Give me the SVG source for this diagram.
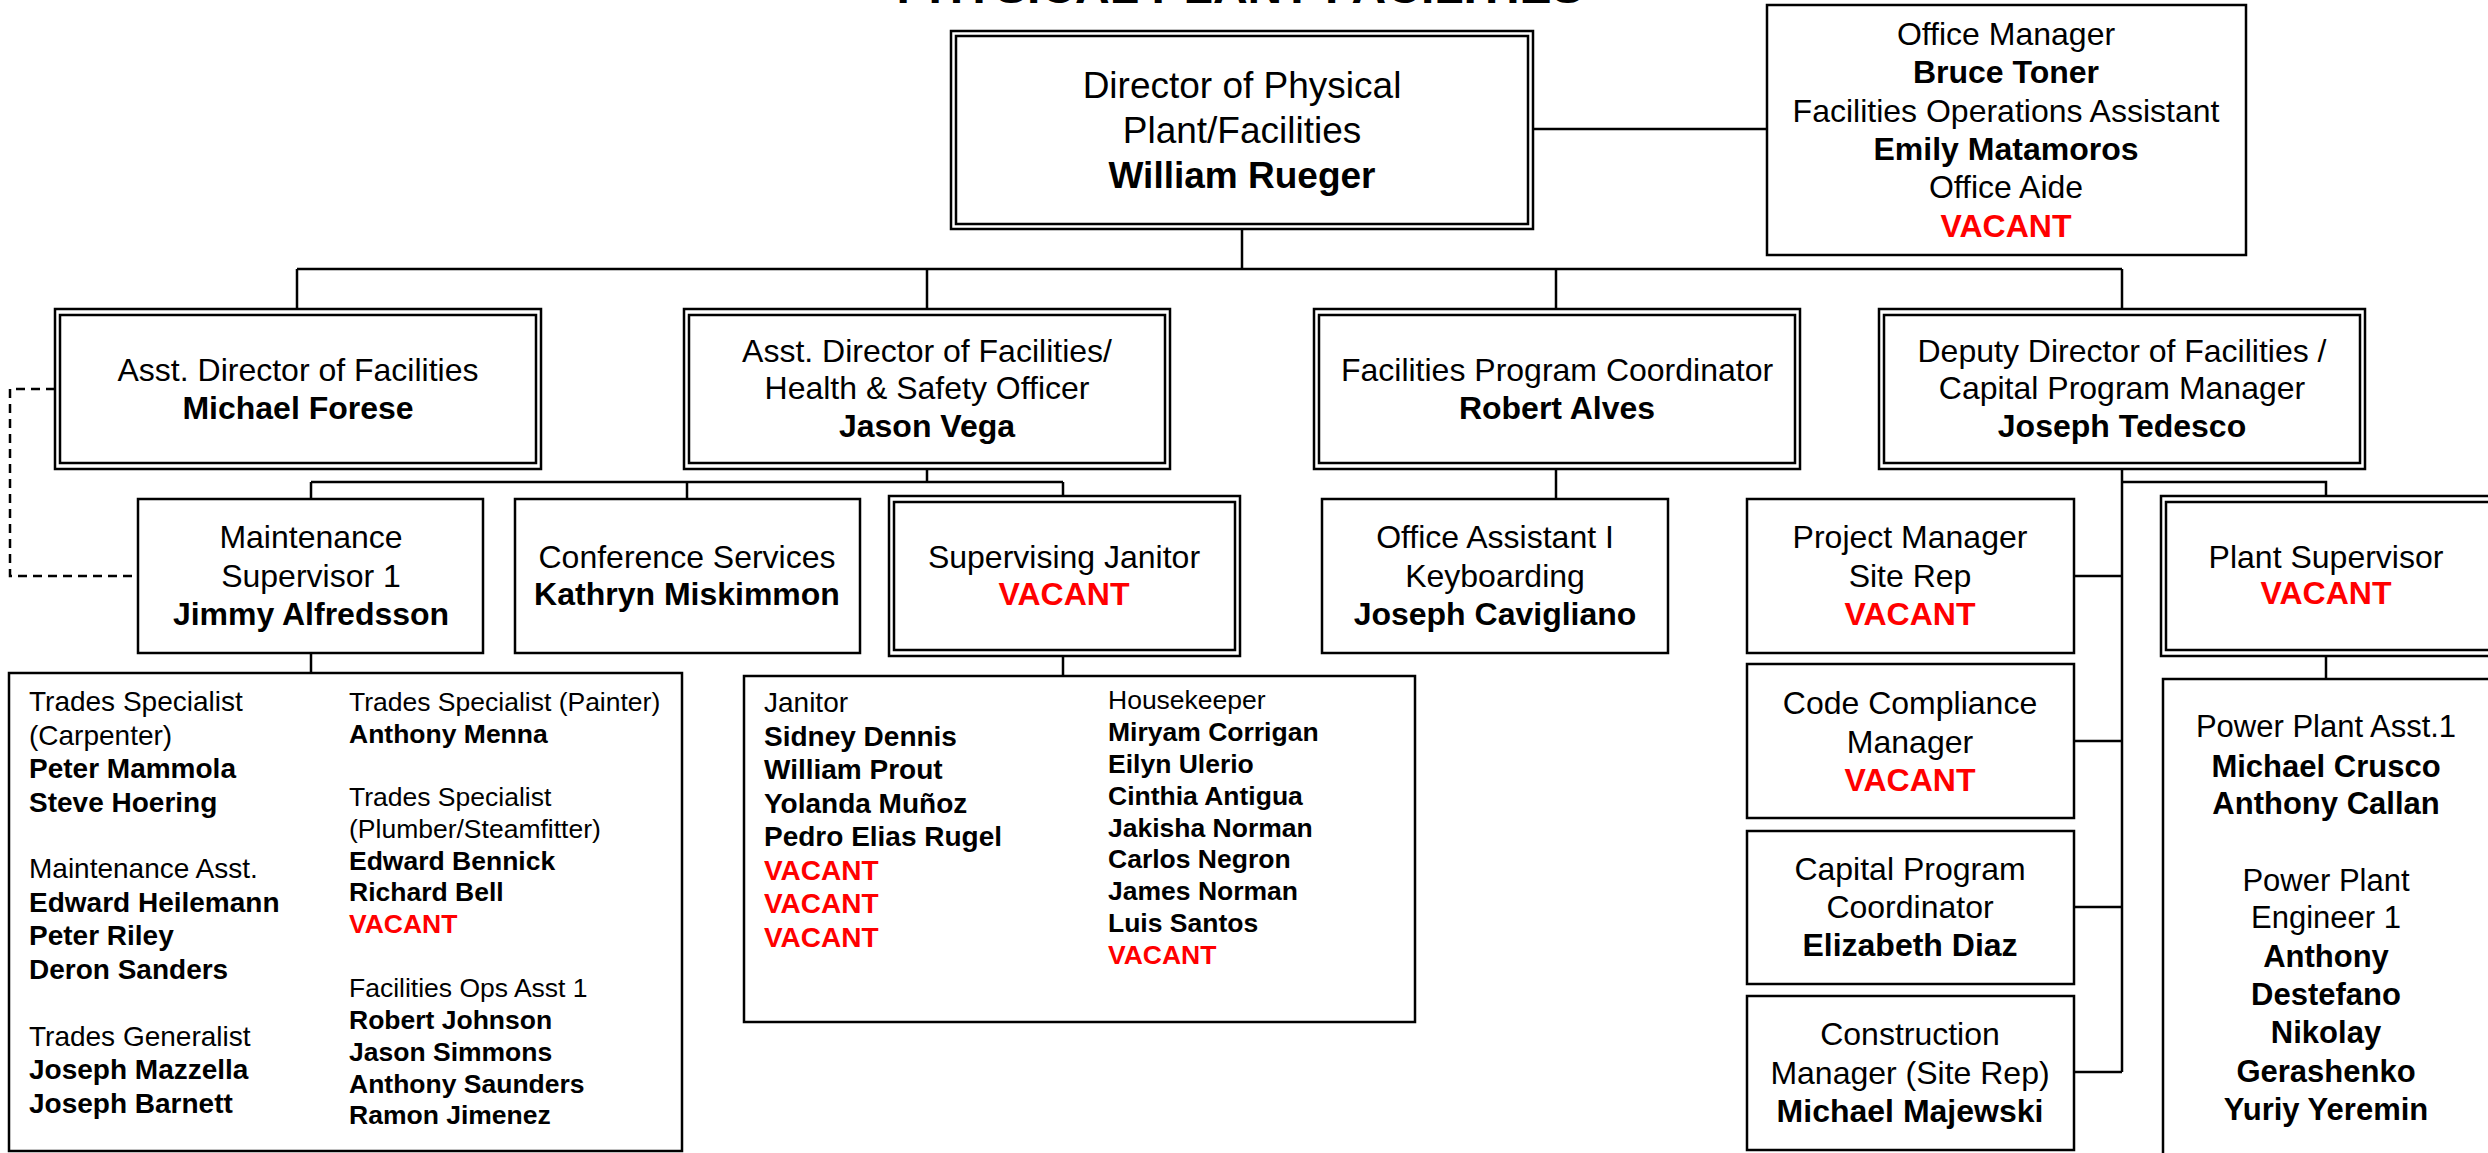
<svg xmlns="http://www.w3.org/2000/svg" width="2488" height="1153" viewBox="0 0 2488 1153">
<style>
.bx{fill:#fff;stroke:#000;stroke-width:2.5}
.c{fill:none;stroke:#000;stroke-width:2.5}
.d{fill:none;stroke:#000;stroke-width:2.5;stroke-dasharray:9 6}
text{font-family:"Liberation Sans",Arial,sans-serif;fill:#000}
.m{text-anchor:middle;font-size:32px}
.pp{font-size:31px}
.big{font-size:37px}
.b{font-weight:bold}
.v{fill:#ff0000;font-weight:bold}
.l{text-anchor:start;font-size:26.5px}
.l2{text-anchor:start;font-size:28px}
.ttl{text-anchor:middle;font-size:48px;font-weight:bold}
</style>
<rect width="2488" height="1153" fill="#fff"/>
<text class="ttl" x="1240" y="3">PHYSICAL PLANT FACILITIES</text>

<g id="connectors">
<path class="c" d="M1533 129H1767"/>
<path class="c" d="M1242 229V269M297 269H2122M297 269V309M927 269V309M1556 269V309M2122 269V309"/>
<path class="c" d="M927 469V482M311 482H1063M311 482V499M687 482V499M1063 482V496"/>
<path class="d" d="M55 389H10V576H138"/>
<path class="c" d="M311 653V673M1063 656V676"/>
<path class="c" d="M1556 469V499"/>
<path class="c" d="M2122 469V1072M2122 482H2326V496M2074 576H2122M2074 741H2122M2074 907H2122M2074 1072H2122"/>
<path class="c" d="M2326 656V679"/>
</g>

<g id="director">
<rect class="bx" x="951" y="31" width="582" height="198"/>
<rect class="bx" x="956" y="36" width="572" height="188"/>
<text class="m big" x="1242" y="98">Director of Physical</text>
<text class="m big" x="1242" y="143">Plant/Facilities</text>
<text class="m big b" x="1242" y="188">William Rueger</text>
</g>

<g id="office">
<rect class="bx" x="1767" y="5" width="479" height="250"/>
<text class="m" x="2006" y="45">Office Manager</text>
<text class="m b" x="2006" y="83">Bruce Toner</text>
<text class="m" x="2006" y="122">Facilities Operations Assistant</text>
<text class="m b" x="2006" y="160">Emily Matamoros</text>
<text class="m" x="2006" y="198">Office Aide</text>
<text class="m v" x="2006" y="237">VACANT</text>
</g>

<g id="asst-forese">
<rect class="bx" x="55" y="309" width="486" height="160"/>
<rect class="bx" x="60" y="315" width="476" height="148"/>
<text class="m" x="298" y="381">Asst. Director of Facilities</text>
<text class="m b" x="298" y="419">Michael Forese</text>
</g>

<g id="asst-vega">
<rect class="bx" x="684" y="309" width="486" height="160"/>
<rect class="bx" x="689" y="315" width="476" height="148"/>
<text class="m" x="927" y="362">Asst. Director of Facilities/</text>
<text class="m" x="927" y="399">Health &amp; Safety Officer</text>
<text class="m b" x="927" y="437">Jason Vega</text>
</g>

<g id="fpc">
<rect class="bx" x="1314" y="309" width="486" height="160"/>
<rect class="bx" x="1319" y="315" width="476" height="148"/>
<text class="m" x="1557" y="381">Facilities Program Coordinator</text>
<text class="m b" x="1557" y="419">Robert Alves</text>
</g>

<g id="deputy">
<rect class="bx" x="1879" y="309" width="486" height="160"/>
<rect class="bx" x="1884" y="315" width="476" height="148"/>
<text class="m" x="2122" y="362">Deputy Director of Facilities /</text>
<text class="m" x="2122" y="399">Capital Program Manager</text>
<text class="m b" x="2122" y="437">Joseph Tedesco</text>
</g>

<g id="maint-sup">
<rect class="bx" x="138" y="499" width="345" height="154"/>
<text class="m" x="311" y="548">Maintenance</text>
<text class="m" x="311" y="587">Supervisor 1</text>
<text class="m b" x="311" y="625">Jimmy Alfredsson</text>
</g>

<g id="conference">
<rect class="bx" x="515" y="499" width="345" height="154"/>
<text class="m" x="687" y="568">Conference Services</text>
<text class="m b" x="687" y="605">Kathryn Miskimmon</text>
</g>

<g id="sup-janitor">
<rect class="bx" x="889" y="496" width="351" height="160"/>
<rect class="bx" x="894" y="502" width="341" height="148"/>
<text class="m" x="1064" y="568">Supervising Janitor</text>
<text class="m v" x="1064" y="605">VACANT</text>
</g>

<g id="office-asst">
<rect class="bx" x="1322" y="499" width="346" height="154"/>
<text class="m" x="1495" y="548">Office Assistant I</text>
<text class="m" x="1495" y="587">Keyboarding</text>
<text class="m b" x="1495" y="625">Joseph Cavigliano</text>
</g>

<g id="project-mgr">
<rect class="bx" x="1747" y="499" width="327" height="154"/>
<text class="m" x="1910" y="548">Project Manager</text>
<text class="m" x="1910" y="587">Site Rep</text>
<text class="m v" x="1910" y="625">VACANT</text>
</g>

<g id="code-compliance">
<rect class="bx" x="1747" y="664" width="327" height="154"/>
<text class="m" x="1910" y="714">Code Compliance</text>
<text class="m" x="1910" y="753">Manager</text>
<text class="m v" x="1910" y="791">VACANT</text>
</g>

<g id="capital-coord">
<rect class="bx" x="1747" y="831" width="327" height="153"/>
<text class="m" x="1910" y="880">Capital Program</text>
<text class="m" x="1910" y="918">Coordinator</text>
<text class="m b" x="1910" y="956">Elizabeth Diaz</text>
</g>

<g id="construction-mgr">
<rect class="bx" x="1747" y="996" width="327" height="154"/>
<text class="m" x="1910" y="1045">Construction</text>
<text class="m" x="1910" y="1084">Manager (Site Rep)</text>
<text class="m b" x="1910" y="1122">Michael Majewski</text>
</g>

<g id="plant-sup">
<rect class="bx" x="2161" y="496" width="340" height="160"/>
<rect class="bx" x="2166" y="502" width="330" height="148"/>
<text class="m" x="2326" y="568">Plant Supervisor</text>
<text class="m v" x="2326" y="604">VACANT</text>
</g>

<g id="power-plant">
<rect class="bx" x="2163" y="679" width="340" height="490"/>
<text class="m pp" x="2326" y="737">Power Plant Asst.1</text>
<text class="m pp b" x="2326" y="777">Michael Crusco</text>
<text class="m pp b" x="2326" y="814">Anthony Callan</text>
<text class="m pp" x="2326" y="891">Power Plant</text>
<text class="m pp" x="2326" y="928">Engineer 1</text>
<text class="m pp b" x="2326" y="967">Anthony</text>
<text class="m pp b" x="2326" y="1005">Destefano</text>
<text class="m pp b" x="2326" y="1043">Nikolay</text>
<text class="m pp b" x="2326" y="1082">Gerashenko</text>
<text class="m pp b" x="2326" y="1120">Yuriy Yeremin</text>
</g>

<g id="trades">
<rect class="bx" x="9" y="673" width="673" height="478"/>
<text class="l2" x="29" y="711">Trades Specialist</text>
<text class="l2" x="29" y="745">(Carpenter)</text>
<text class="l2 b" x="29" y="778">Peter Mammola</text>
<text class="l2 b" x="29" y="812">Steve Hoering</text>
<text class="l2" x="29" y="878">Maintenance Asst.</text>
<text class="l2 b" x="29" y="912">Edward Heilemann</text>
<text class="l2 b" x="29" y="945">Peter Riley</text>
<text class="l2 b" x="29" y="979">Deron Sanders</text>
<text class="l2" x="29" y="1046">Trades Generalist</text>
<text class="l2 b" x="29" y="1079">Joseph Mazzella</text>
<text class="l2 b" x="29" y="1113">Joseph Barnett</text>
<text class="l" x="349" y="711">Trades Specialist (Painter)</text>
<text class="l b" x="349" y="743">Anthony Menna</text>
<text class="l" x="349" y="806">Trades Specialist</text>
<text class="l" x="349" y="838">(Plumber/Steamfitter)</text>
<text class="l b" x="349" y="870">Edward Bennick</text>
<text class="l b" x="349" y="901">Richard Bell</text>
<text class="l v" x="349" y="933">VACANT</text>
<text class="l" x="349" y="997">Facilities Ops Asst 1</text>
<text class="l b" x="349" y="1029">Robert Johnson</text>
<text class="l b" x="349" y="1061">Jason Simmons</text>
<text class="l b" x="349" y="1093">Anthony Saunders</text>
<text class="l b" x="349" y="1124">Ramon Jimenez</text>
</g>

<g id="janitors">
<rect class="bx" x="744" y="676" width="671" height="346"/>
<text class="l2" x="764" y="712">Janitor</text>
<text class="l2 b" x="764" y="746">Sidney Dennis</text>
<text class="l2 b" x="764" y="779">William Prout</text>
<text class="l2 b" x="764" y="813">Yolanda Muñoz</text>
<text class="l2 b" x="764" y="846">Pedro Elias Rugel</text>
<text class="l2 v" x="764" y="880">VACANT</text>
<text class="l2 v" x="764" y="913">VACANT</text>
<text class="l2 v" x="764" y="947">VACANT</text>
<text class="l" x="1108" y="709">Housekeeper</text>
<text class="l b" x="1108" y="741">Miryam Corrigan</text>
<text class="l b" x="1108" y="773">Eilyn Ulerio</text>
<text class="l b" x="1108" y="805">Cinthia Antigua</text>
<text class="l b" x="1108" y="837">Jakisha Norman</text>
<text class="l b" x="1108" y="868">Carlos Negron</text>
<text class="l b" x="1108" y="900">James Norman</text>
<text class="l b" x="1108" y="932">Luis Santos</text>
<text class="l v" x="1108" y="964">VACANT</text>
</g>
</svg>
